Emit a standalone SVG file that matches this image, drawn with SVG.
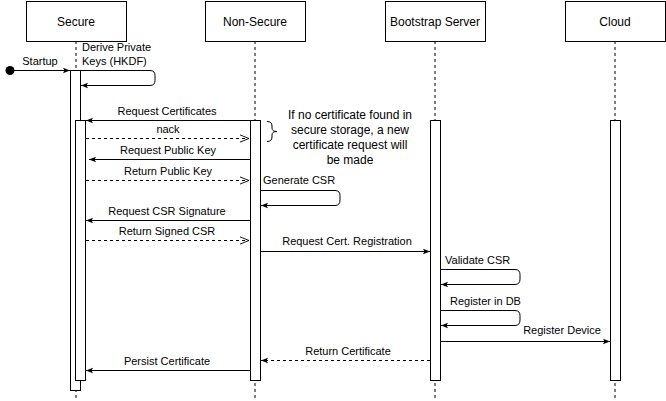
<svg xmlns="http://www.w3.org/2000/svg" width="666" height="401" viewBox="0 0 666 401">
<defs>
<style>
.box{fill:#fff;stroke:#000;stroke-width:1}
.life{stroke:#000;stroke-width:1;stroke-dasharray:3 3;fill:none}
.msg{stroke:#000;stroke-width:1;fill:none}
.dash{stroke-dasharray:3 3}
.t{font-family:"Liberation Sans",Arial,sans-serif;font-size:11px;fill:#000}
.h{font-family:"Liberation Sans",Arial,sans-serif;font-size:12px;fill:#000;text-anchor:middle}
.n{font-family:"Liberation Sans",Arial,sans-serif;font-size:12px;fill:#000;text-anchor:middle}
.c{text-anchor:middle}
</style>
<marker id="fill" viewBox="0 0 10 10" refX="10" refY="5" markerWidth="7" markerHeight="7" orient="auto" markerUnits="userSpaceOnUse">
<path d="M0,1 L10,5 L0,9 L2,5 Z" fill="#000"/>
</marker>
<marker id="open" viewBox="0 0 10 10" refX="10" refY="5" markerWidth="9" markerHeight="9" orient="auto" markerUnits="userSpaceOnUse">
<path d="M0,1 L10,5 L0,9" fill="none" stroke="#000" stroke-width="1"/>
</marker>
</defs>
<rect width="666" height="401" fill="#fff"/>

<g id="lifelines">
<path class="life" d="M76,41V401 M255,41V401 M435,41V401 M615,41V401"/>
</g>

<g id="secure">
<rect class="box" x="26.5" y="1.5" width="100" height="40"/>
<text class="h" x="76" y="26">Secure</text>
<rect class="box" x="70.5" y="70.5" width="10" height="320"/>
<rect class="box" x="75.5" y="120.5" width="10" height="260"/>
</g>
<g id="nonsecure">
<rect class="box" x="205.5" y="1.5" width="100" height="40"/>
<text class="h" x="255" y="26">Non-Secure</text>
<rect class="box" x="250.5" y="120.5" width="10" height="260"/>
</g>
<g id="bootstrap">
<rect class="box" x="385.5" y="1.5" width="100" height="40"/>
<text class="h" x="435" y="26">Bootstrap Server</text>
<rect class="box" x="430.5" y="120.5" width="10" height="260"/>
</g>
<g id="cloud">
<rect class="box" x="565.5" y="1.5" width="100" height="40"/>
<text class="h" x="615" y="26">Cloud</text>
<rect class="box" x="610.5" y="120.5" width="10" height="260"/>
</g>

<g id="note">
<path class="msg" d="M267,121.5 Q272,121.5 272,126 L272,128 Q272,131.5 277,131.5 Q272,131.5 272,135 L272,137 Q272,141.5 267,141.5"/>
<text class="n" x="350" y="119">If no certificate found in</text>
<text class="n" x="350" y="134">secure storage, a new</text>
<text class="n" x="350" y="149">certificate request will</text>
<text class="n" x="350" y="164">be made</text>
</g>

<g id="connectors">
<circle cx="10" cy="70.5" r="4.5" fill="#000"/>
<path class="msg" d="M10,70.5H70" marker-end="url(#fill)"/>
<text class="t c" x="40" y="65">Startup</text>

<path class="msg" d="M80.5,70.5H150 Q155,70.5 155,75.5 V80.5 Q155,85.5 150,85.5 H81" marker-end="url(#fill)"/>
<text class="t" x="82" y="51">Derive Private</text>
<text class="t" x="82" y="65">Keys (HKDF)</text>

<path class="msg" d="M250,120.5H86" marker-end="url(#fill)"/>
<text class="t c" x="167" y="115">Request Certificates</text>

<path class="msg dash" d="M86,138.5H249" marker-end="url(#open)"/>
<text class="t c" x="168" y="133">nack</text>

<path class="msg" d="M250,159.5H89" marker-end="url(#fill)"/>
<text class="t c" x="168" y="154">Request Public Key</text>

<path class="msg dash" d="M86,180.5H249" marker-end="url(#open)"/>
<text class="t c" x="168" y="175">Return Public Key</text>

<path class="msg" d="M260.5,190.5H335 Q340,190.5 340,195.5 V200 Q340,205.5 335,205.5 H261" marker-end="url(#fill)"/>
<text class="t" x="263" y="184">Generate CSR</text>

<path class="msg" d="M250,220.5H86" marker-end="url(#fill)"/>
<text class="t c" x="167" y="215">Request CSR Signature</text>

<path class="msg dash" d="M86,240.5H249" marker-end="url(#open)"/>
<text class="t c" x="167" y="235">Return Signed CSR</text>

<path class="msg" d="M260.5,251.5H430" marker-end="url(#fill)"/>
<text class="t c" x="347" y="245">Request Cert. Registration</text>

<path class="msg" d="M440.5,269.5H515 Q520,269.5 520,274.5 V279 Q520,284.5 515,284.5 H441" marker-end="url(#fill)"/>
<text class="t" x="445" y="264">Validate CSR</text>

<path class="msg" d="M440.5,310.5H515 Q520,310.5 520,315.5 V320 Q520,325.5 515,325.5 H441" marker-end="url(#fill)"/>
<text class="t" x="450" y="305">Register in DB</text>

<path class="msg" d="M440.5,341.5H610" marker-end="url(#fill)"/>
<text class="t c" x="562" y="334">Register Device</text>

<path class="msg dash" d="M430,360.5H261" marker-end="url(#fill)"/>
<text class="t c" x="348" y="355">Return Certificate</text>

<path class="msg" d="M250,370.5H86" marker-end="url(#fill)"/>
<text class="t c" x="167" y="365">Persist Certificate</text>
</g>
</svg>
